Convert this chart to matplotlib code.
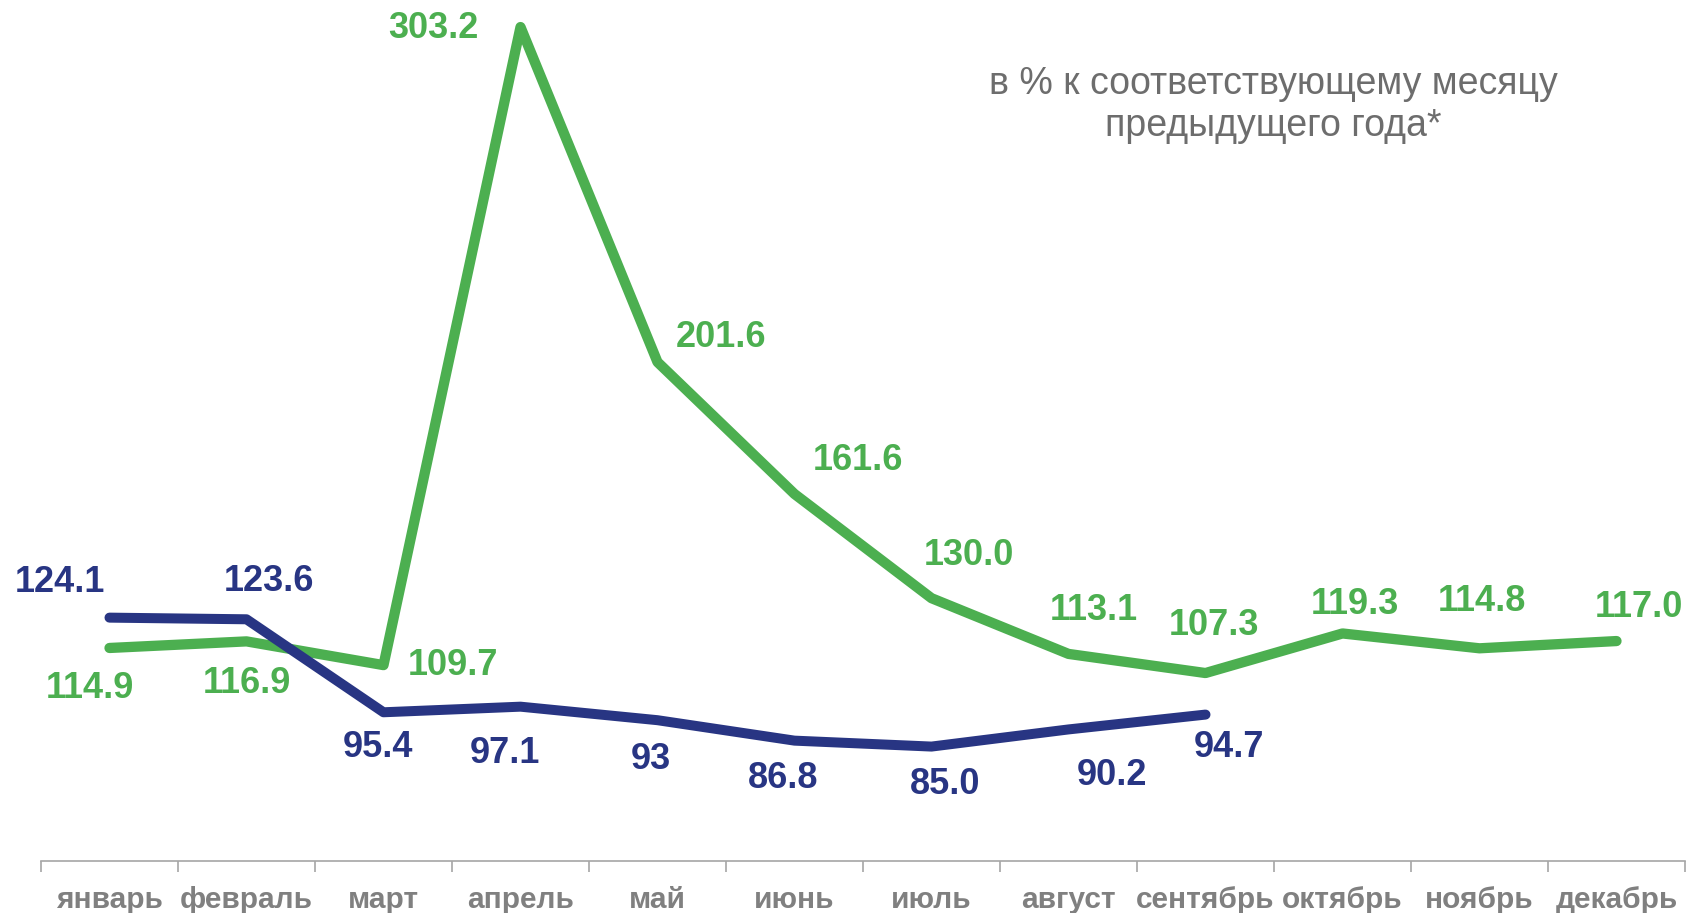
import matplotlib
matplotlib.use("Agg")
import matplotlib.pyplot as plt
from matplotlib import font_manager as fm
import numpy as np

months = ["январь", "февраль", "март", "апрель", "май", "июнь",
          "июль", "август", "сентябрь", "октябрь", "ноябрь", "декабрь"]
green_vals = [114.9, 116.9, 109.7, 303.2, 201.6, 161.6, 130.0, 113.1, 107.3, 119.3, 114.8, 117.0]
green_labels = ["114.9", "116.9", "109.7", "303.2", "201.6", "161.6", "130.0", "113.1", "107.3", "119.3", "114.8", "117.0"]
blue_vals = [124.1, 123.6, 95.4, 97.1, 93.0, 86.8, 85.0, 90.2, 94.7]
blue_labels = ["124.1", "123.6", "95.4", "97.1", "93", "86.8", "85.0", "90.2", "94.7"]
title_text = "в % к соответствующему месяцу\nпредыдущего года*"

GREEN = "#4caf50"
BLUE = "#283583"
GRAY = "#808080"

names = {f.name for f in fm.fontManager.ttflist}
narrow = "Liberation Sans Narrow" if "Liberation Sans Narrow" in names else "Liberation Sans"

W, H = 1688, 913
AX_BOTTOM = 861
fig = plt.figure(figsize=(W / 100, H / 100), dpi=100)
ax = fig.add_axes([41 / W, 1 - AX_BOTTOM / H, (1685 - 41) / W, AX_BOTTOM / H])

x = np.arange(len(months))
ax.plot(x, green_vals, color=GREEN, lw=7.4, solid_capstyle="round", solid_joinstyle="round", zorder=2)
ax.plot(x[:len(blue_vals)], blue_vals, color=BLUE, lw=7.2, solid_capstyle="round", solid_joinstyle="round", zorder=3)

ax.set_xlim(-0.5, len(months) - 0.5)
ax.set_ylim(50.3, 311.4)

# label offsets in points (x right, y up)
g_off = [(-14, -29), (0, -30), (50, 0), (-63, -1), (46, 18), (46, 24), (27, 31),
         (18, 31), (6, 34), (9, 21), (2, 34), (16, 24)]
b_off = [(-36, 25), (16, 27), (-4, -25), (-11, -34), (-5, -28), (-8, -27), (10, -27),
         (31, -33), (17, -24)]
for xi, v, lab, off in zip(x, green_vals, green_labels, g_off):
    ax.annotate(lab, (xi, v), xytext=off, textcoords="offset points", ha="center", va="center",
                fontsize=26, fontweight="bold", color=GREEN, family="Liberation Sans", zorder=4)
for xi, v, lab, off in zip(x, blue_vals, blue_labels, b_off):
    ax.annotate(lab, (xi, v), xytext=off, textcoords="offset points", ha="center", va="center",
                fontsize=26, fontweight="bold", color=BLUE, family="Liberation Sans", zorder=4)

for s in ["top", "right", "left"]:
    ax.spines[s].set_visible(False)
ax.spines["bottom"].set_color("#a6a6a6")
ax.spines["bottom"].set_linewidth(1.2)
ax.set_yticks([])
ax.set_xticks(np.arange(-0.5, len(months), 1.0))
ax.set_xticklabels([])
ax.tick_params(axis="x", length=8, color="#a6a6a6", width=1.2)
ax.set_xticks(x, minor=True)
ax.set_xticklabels(months, minor=True)
ax.tick_params(axis="x", which="minor", length=0, pad=18, labelsize=21.5, labelcolor=GRAY)
for t in ax.get_xticklabels(minor=True):
    t.set_fontweight("bold")
    t.set_family(narrow)

fig.text(1273 / W, 1 - 105 / H, title_text, ha="center", va="center", fontsize=27,
         color="#6d6d6d", family="Liberation Sans", linespacing=1.2)

fig.savefig("out.png", dpi=100)
